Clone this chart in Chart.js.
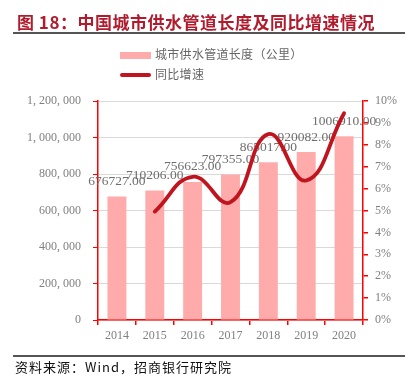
<!DOCTYPE html>
<html><head><meta charset="utf-8">
<script src="https://cdn.jsdelivr.net/npm/chart.js@4.4.0/dist/chart.umd.min.js"></script>
<style>
html,body{margin:0;padding:0;background:#fff;width:409px;height:386px;overflow:hidden;}
#wrap{position:relative;width:409px;height:386px;}
#c{position:absolute;left:0;top:0;}
#title{position:absolute;left:17px;top:9px;font:bold 17px "Noto Sans CJK SC",sans-serif;color:#b01c2e;letter-spacing:0.5px;white-space:nowrap;}
#tline{position:absolute;left:13px;top:32px;width:392px;height:2px;background:#555;}
#bline{position:absolute;left:13px;top:355px;width:392px;height:2px;background:#555;}
#foot{position:absolute;left:15px;top:357px;font:13px "Noto Sans CJK SC",sans-serif;color:#111;letter-spacing:1px;white-space:nowrap;}
.lg{position:absolute;left:120px;height:14px;font:12px "Noto Sans CJK SC",sans-serif;color:#666;white-space:nowrap;letter-spacing:0.3px;}
.sw{position:absolute;left:0;width:31px;}
.lt{position:absolute;left:35px;top:-3px;}
</style></head>
<body><div id="wrap">
<canvas id="c" width="409" height="386"></canvas>
<div id="title">图 18：中国城市供水管道长度及同比增速情况</div>
<div id="tline"></div>
<div id="legend"></div>
<div id="bline"></div>
<div id="foot">资料来源：Wind，招商银行研究院</div>
</div>
<script>
const categories = ['2014','2015','2016','2017','2018','2019','2020'];
const pipeLength = [676727, 710206, 756623, 797355, 865017, 920082, 1006910];
const growthRate = [null, 4.95, 6.54, 5.38, 8.49, 6.37, 9.44];
const barLabel = '城市供水管道长度（公里）';
const lineLabel = '同比增速';
const barColor = '#ffabab';
const lineColor = '#c0141e';

// HTML legend
const lg = document.getElementById('legend');
lg.innerHTML =
  '<div class="lg" style="top:48px"><div class="sw" style="top:4px;height:7px;background:'+barColor+'"></div><div class="lt">'+barLabel+'</div></div>'+
  '<div class="lg" style="top:68px"><div class="sw" style="top:5px;height:4px;border-radius:2px;background:'+lineColor+'"></div><div class="lt">'+lineLabel+'</div></div>';

const barLabels = {
  id: 'barLabels',
  afterDatasetDraw(chart, args) {
    if (args.index !== 0) return;
    const ctx = chart.ctx;
    const meta = args.meta;
    ctx.save();
    ctx.font = '13.5px "Liberation Serif", serif';
    ctx.fillStyle = '#6e6e6e';
    ctx.textAlign = 'center';
    ctx.textBaseline = 'middle';
    meta.data.forEach((el, i) => {
      ctx.fillText(pipeLength[i].toFixed(2), el.x, el.y - 15);
    });
    ctx.restore();
  }
};

const serif = {family: '"Liberation Serif", serif', size: 12};
new Chart(document.getElementById('c'), {
  data: {
    labels: categories,
    datasets: [
      {type: 'bar', label: barLabel, data: pipeLength, backgroundColor: barColor, yAxisID: 'y', order: 2,
       barPercentage: 0.5, categoryPercentage: 1.0},
      {type: 'line', label: lineLabel, data: growthRate, borderColor: lineColor, borderWidth: 3.8,
       pointRadius: 0, tension: 0.45, yAxisID: 'y2', order: 1, borderCapStyle: 'round', spanGaps: false}
    ]
  },
  options: {
    responsive: false,
    animation: false,
    layout: {padding: {top: 101, left: 0, right: 0, bottom: 0}},
    plugins: {legend: {display: false}, tooltip: {enabled: false}},
    scales: {
      x: {
        offset: true,
        grid: {offset: true, drawOnChartArea: false, tickColor: '#ff0000', tickLength: 5, lineWidth: 1.5},
        border: {color: '#ff0000', width: 1.5},
        ticks: {color: '#808080', font: serif, padding: 4},
        afterFit: s => { s.height = 66; }
      },
      y: {
        position: 'left', min: 0, max: 1200000,
        ticks: {stepSize: 200000, color: '#808080', font: serif, padding: 12,
          callback: v => v.toLocaleString('en-US').replace(/,/g, ', ')},
        grid: {color: '#d9d9d9', lineWidth: 1, tickColor: '#ff0000', tickLength: 5},
        border: {color: '#ff0000', width: 1.5},
        afterFit: s => { s.width = 98; }
      },
      y2: {
        position: 'right', min: 0, max: 10,
        ticks: {stepSize: 1, color: '#808080', font: serif, padding: 7, callback: v => v + '%'},
        grid: {drawOnChartArea: false, tickColor: '#ff0000', tickLength: 5, lineWidth: 1.5},
        border: {color: '#ff0000', width: 1.5},
        afterFit: s => { s.width = 46; }
      }
    }
  },
  plugins: [barLabels]
});
</script>
</body></html>
